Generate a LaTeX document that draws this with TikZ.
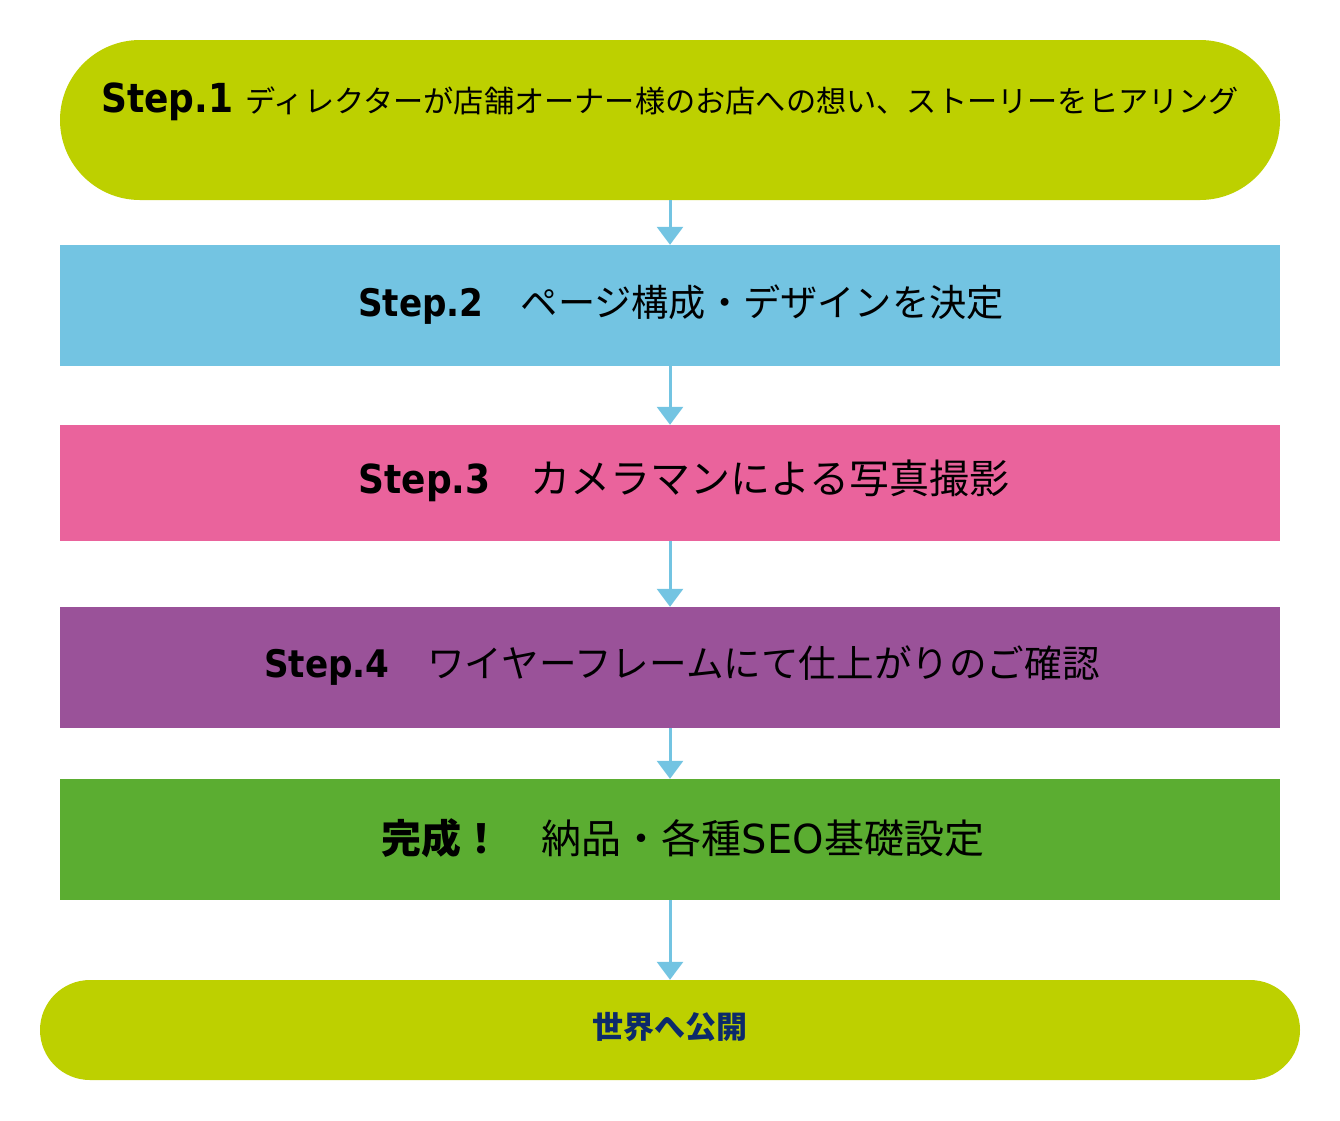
\documentclass[tikz,border=0pt]{standalone}
\usepackage{fontspec}
\newfontfamily\jp{Noto Sans CJK JP}
\newfontfamily\lat{DejaVu Sans Condensed}
\newfontfamily\latw{DejaVu Sans}
\usetikzlibrary{arrows.meta}
\definecolor{lime}{HTML}{BDD000}
\definecolor{sky}{HTML}{73C4E2}
\definecolor{rose}{HTML}{EA639C}
\definecolor{plum}{HTML}{9A5299}
\definecolor{leaf}{HTML}{5BAD31}
\definecolor{navy}{HTML}{0C2A6A}
\begin{document}
\begin{tikzpicture}[x=1pt,y=-1pt]
\tikzset{
  panel/.style={inner sep=0pt, minimum width=1220pt, draw=none},
  lbl/.style={inner sep=0pt, text=black},
  flow/.style={draw=sky, line width=3pt, -{Triangle[width=26pt,length=18pt]}}
}
\useasboundingbox (0,0) rectangle (1340,1120);
\node[panel, fill=lime, minimum height=160pt, rounded corners=80pt] (s1) at (670,120) {};
\node[panel, fill=sky, minimum height=121pt] (s2) at (670,305.5) {};
\node[panel, fill=rose, minimum height=116pt] (s3) at (670,483) {};
\node[panel, fill=plum, minimum height=121pt] (s4) at (670,667.5) {};
\node[panel, fill=leaf, minimum height=121pt] (s5) at (670,839.5) {};
\node[panel, fill=lime, minimum width=1260pt, minimum height=100pt, rounded corners=50pt] (s6) at (670,1030) {};

\node[lbl, anchor=base west] (t1) at (101,112) {\fontsize{40}{48}\selectfont\lat\bfseries Step.1 \fontsize{30.2}{36}\selectfont\jp\mdseries ディレクターが店舗オーナー様のお店への想い、ストーリーをヒアリング};
\node[lbl] (t2) at (681,305) {\fontsize{38}{46}\selectfont\lat\bfseries Step.2\fontsize{37.2}{44}\selectfont\jp\mdseries　ページ構成・デザインを決定};
\node[lbl] (t3) at (684,481) {\fontsize{40}{48}\selectfont\lat\bfseries Step.3\jp\mdseries　カメラマンによる写真撮影};
\node[lbl] (t4) at (682,666) {\fontsize{38}{46}\selectfont\lat\bfseries Step.4\fontsize{37.6}{44}\selectfont\jp\mdseries　ワイヤーフレームにて仕上がりのご確認};
\node[lbl] (t5) at (683,838) {\fontsize{40}{48}\selectfont\jp\bfseries 完成！\mdseries　納品・各種{\latw SEO}基礎設定};
\node[lbl, text=navy] (t6) at (670,1027) {\fontsize{31}{37}\selectfont\jp\bfseries 世界へ公開};

\draw[flow] (s1.south) -- (s2.north);
\draw[flow] (s2.south) -- (s3.north);
\draw[flow] (s3.south) -- (s4.north);
\draw[flow] (s4.south) -- (s5.north);
\draw[flow] (s5.south) -- (s6.north);
\end{tikzpicture}
\end{document}
